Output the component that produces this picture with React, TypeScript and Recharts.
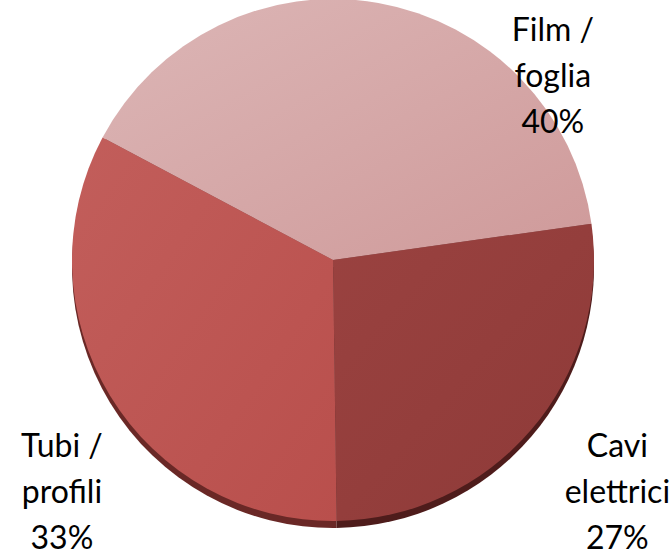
import { PieChart, Pie, Cell } from "recharts";

const categories = ["Film /|foglia", "Tubi /|profili", "Cavi|elettrici"];
const shares = [40, 33, 27];
const faceColors = ["url(#gFilm)", "url(#gTubi)", "url(#gCavi)"];
const edgeColors = ["#8a5c5c", "#6a2826", "#4e1c1b"];

// where each label sits: angle (deg, recharts convention) and distance from centre
const labelSpots = [
    { angle: 40, dist: 287 },
    { angle: 220.6, dist: 357 },
    { angle: -39.2, dist: 367 },
];

const data = categories.map((name, i) => ({ name, value: shares[i] }));

const RAD = Math.PI / 180;

function renderLabel(props: any) {
    const { cx, cy, index } = props;
    const spot = labelSpots[index];
    const x = cx + spot.dist * Math.cos(spot.angle * RAD);
    const y = cy - spot.dist * Math.sin(spot.angle * RAD);
    const lines = [...categories[index].split("|"), shares[index] + "%"];
    return (
        <text x={x} y={y} textAnchor="middle" fill="#000" fontSize={32}
            fontFamily="Lato, 'Open Sans', sans-serif">
            {lines.map((l, k) => (
                <tspan key={k} x={x} dy={k === 0 ? -46 + 11 : 46}>{l}</tspan>
            ))}
        </text>
    );
}

export default function App() {
    return (
        <div style={{ position: "absolute", left: 0, top: 0, background: "#fff" }}>
            <PieChart width={671} height={555} margin={{ top: 0, right: 0, bottom: 0, left: 0 }}>
                <defs>
                    <linearGradient id="gFilm" x1="0" y1="0" x2="1" y2="1">
                        <stop offset="0%" stopColor="#dcb6b6" />
                        <stop offset="100%" stopColor="#cf9a9a" />
                    </linearGradient>
                    <linearGradient id="gTubi" x1="0" y1="0" x2="1" y2="1">
                        <stop offset="0%" stopColor="#c25e5b" />
                        <stop offset="100%" stopColor="#b94f4c" />
                    </linearGradient>
                    <linearGradient id="gCavi" x1="0" y1="0" x2="1" y2="1">
                        <stop offset="0%" stopColor="#9a4240" />
                        <stop offset="100%" stopColor="#8e3a38" />
                    </linearGradient>
                </defs>
                <Pie data={data} dataKey="value" cx={333} cy={267} outerRadius={261}
                    startAngle={8} endAngle={368} stroke="none" isAnimationActive={false}>
                    {data.map((d, i) => <Cell key={d.name} fill={edgeColors[i]} />)}
                </Pie>
                <Pie data={data} dataKey="value" cx={333} cy={260} outerRadius={261}
                    startAngle={8} endAngle={368} stroke="none" isAnimationActive={false}
                    label={renderLabel} labelLine={false}>
                    {data.map((d, i) => <Cell key={d.name} fill={faceColors[i]} />)}
                </Pie>
            </PieChart>
        </div>
    );
}
